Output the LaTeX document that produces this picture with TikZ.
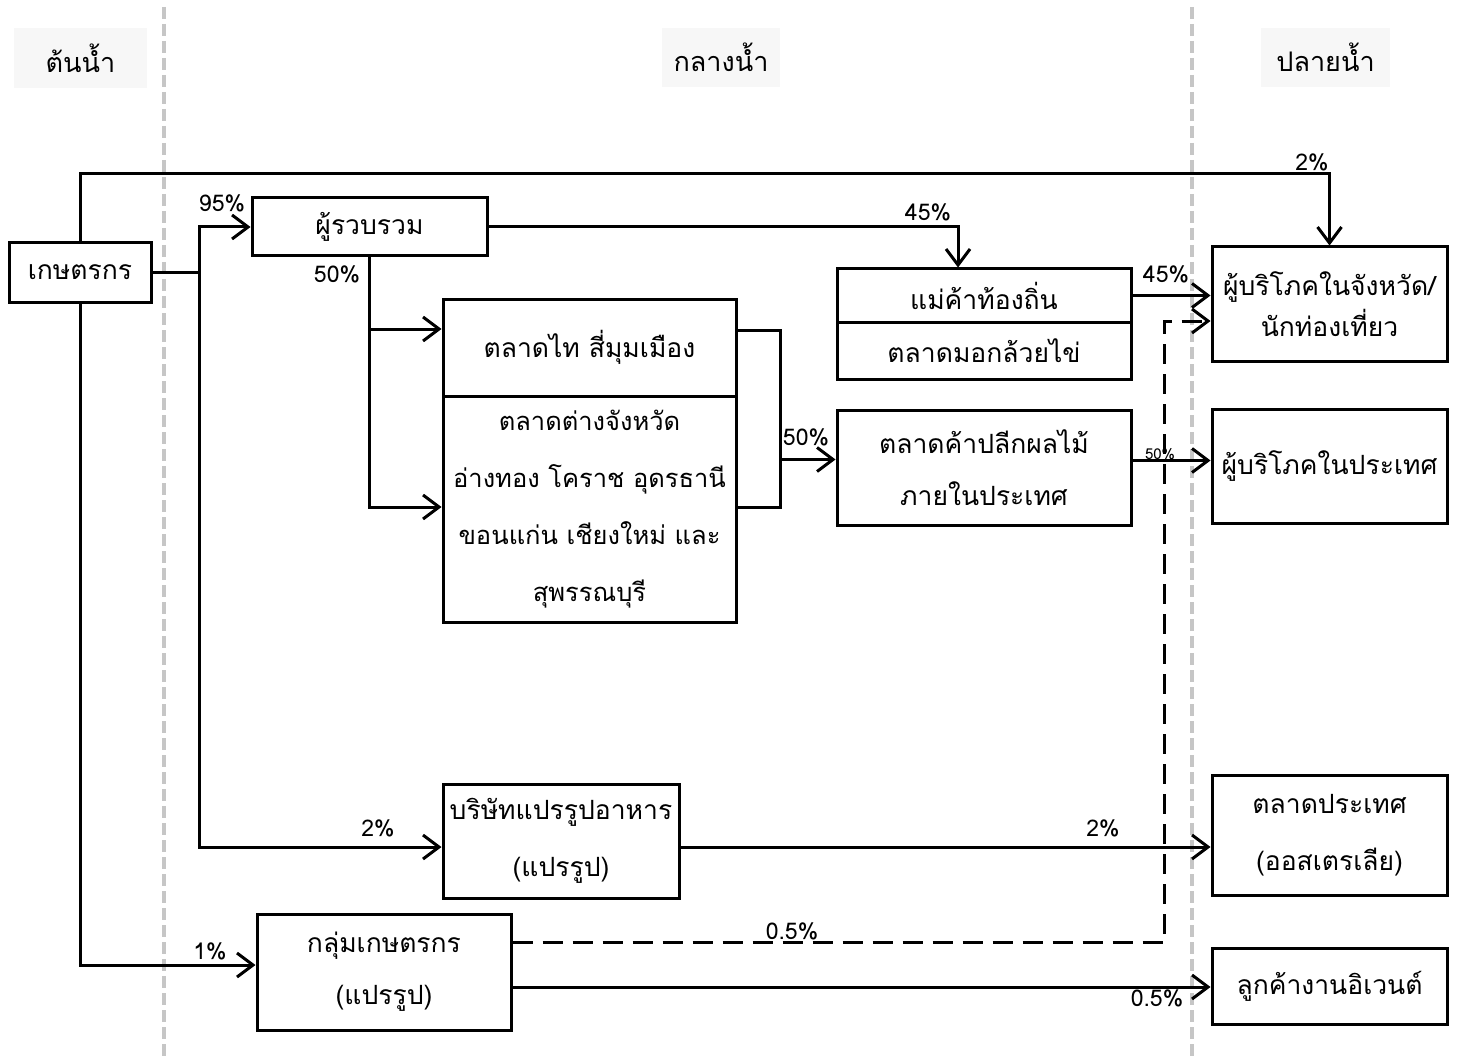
\documentclass[tikz,border=0pt]{standalone}
\usepackage{fontspec}
\setmainfont[Script=Thai]{Loma}
\usetikzlibrary{arrows.meta,calc}
\begin{document}
\begin{tikzpicture}[x=1pt,y=-1pt,
  box/.style={draw=black,line width=3pt,rectangle,inner sep=0pt,align=center,
    font=\fontsize{26.5}{52}\selectfont},
  wide/.style={font=\fontsize{26.5}{57}\selectfont},
  provf/.style={font=\fontsize{25.5}{57}\selectfont},
  tight/.style={font=\fontsize{26.5}{41}\selectfont},
  hdr/.style={rectangle,fill=gray!6,inner sep=0pt,font=\fontsize{27}{34}\selectfont},
  line/.style={draw=black,line width=3pt},
  arr/.style={line,-{Straight Barb[length=16pt,width=24pt,line width=3pt]}},
  dsh/.style={arr,dash pattern=on 20pt off 10pt},
  pct/.style={font=\fontsize{23}{28}\selectfont,inner sep=0pt},
  pctsmall/.style={font=\fontsize{15}{20}\selectfont,inner sep=0pt},
  zone/.style={draw=gray!45,line width=3.5pt,dash pattern=on 12pt off 5pt}
]
\useasboundingbox (0,0) rectangle (1461,1059);
% zone separators
\draw[zone] (164,7) -- (164,1059);
\draw[zone] (1192,7) -- (1192,1059);
% headers
\node[hdr,minimum width=133pt,minimum height=60pt] (h1) at (80.5,58) {ต้นน้ำ};
\node[hdr,minimum width=118pt,minimum height=59pt] (h2) at (721,57.5) {กลางน้ำ};
\node[hdr,minimum width=129pt,minimum height=59pt] (h3) at (1325.5,57.5) {ปลายน้ำ};
% boxes
\node[box,minimum width=142pt,minimum height=59pt] (farmer) at (80,272.5) {เกษตรกร};
\node[box,minimum width=235pt,minimum height=58pt] (collector) at (369.5,227) {ผู้รวบรวม};
\node[box,minimum width=293pt,minimum height=97pt] (thai) at (589.5,347.5) {ตลาดไท สี่มุมเมือง};
\node[box,provf,minimum width=293pt,minimum height=226pt] (prov) at (589.5,509) {ตลาดต่างจังหวัด\\อ่างทอง โคราช อุดรธานี\\ขอนแก่น เชียงใหม่ และ\\สุพรรณบุรี};
\node[box,minimum width=294pt,minimum height=53pt] (maekha) at (984,295.5) {แม่ค้าท้องถิ่น};
\node[box,minimum width=294pt,minimum height=57pt] (mok) at (984,350.5) {ตลาดมอกล้วยไข่};
\node[box,minimum width=294pt,minimum height=115pt] (retail) at (984,467.5) {ตลาดค้าปลีกผลไม้\\ภายในประเทศ};
\node[box,tight,minimum width=235pt,minimum height=114pt] (cons1) at (1329.5,304) {ผู้บริโภคในจังหวัด/\\นักท่องเที่ยว};
\node[box,minimum width=235pt,minimum height=114pt] (cons2) at (1329.5,466) {ผู้บริโภคในประเทศ};
\node[box,wide,minimum width=236pt,minimum height=114pt] (company) at (561,841) {บริษัทแปรรูปอาหาร\\(แปรรูป)};
\node[box,wide,minimum width=235pt,minimum height=120pt] (export) at (1329.5,835) {ตลาดประเทศ\\(ออสเตรเลีย)};
\node[box,minimum width=254pt,minimum height=116pt] (group) at (384,972) {กลุ่มเกษตรกร\\(แปรรูป)};
\node[box,minimum width=235pt,minimum height=76pt] (event) at (1329.5,986) {ลูกค้างานอิเวนต์};
% helper coordinates
\coordinate (top) at (700,174);
\coordinate (jA) at (199,272.5);
\coordinate (br) at (780,420);
\coordinate (thaiIn) at ([yshift=18.5pt]thai.west);
\coordinate (provIn) at ([yshift=2pt]prov.west);
\coordinate (thaiOut) at ([yshift=17.5pt]thai.east);
\coordinate (provOut) at ([yshift=2pt]prov.east);
\coordinate (retailIn) at ([yshift=8pt]retail.west);
\coordinate (retailOut) at ([yshift=7pt]retail.east);
\coordinate (compIn) at ([yshift=-6pt]company.west);
\coordinate (groupIn) at ([yshift=7pt]group.west);
\coordinate (groupD) at ([yshift=30pt]group.east);
\coordinate (groupS) at ([yshift=-15pt]group.east);
\coordinate (dcorner) at (1164,600);
\coordinate (cons1D) at ([yshift=-17pt]cons1.west);
\coordinate (maeIn) at ([xshift=-26pt]maekha.north);
% connectors
\draw[arr] (farmer.north) |- (top) -| (cons1.north);
\draw[line] (farmer.east) -- (jA);
\draw[arr] (jA) |- (collector.west);
\draw[arr] (jA) |- (compIn);
\draw[arr] (collector.east) -| (maeIn);
\draw[arr] (collector.south) |- (provIn);
\draw[arr] (collector.south |- thaiIn) -- (thaiIn);
\draw[line] (thaiOut) -| (br) |- (provOut);
\draw[arr] (br |- retailIn) -- (retailIn);
\draw[arr] (maekha.east) -- (maekha.east -| cons1.west);
\draw[arr] (retailOut) -- (retailOut -| cons2.west);
\draw[arr] (compIn -| company.east) -- (compIn -| export.west);
\draw[arr] (farmer.south) |- (groupIn);
\draw[dsh] (groupD) -| (dcorner) |- (cons1D);
\draw[arr] (groupS) -- (groupS -| event.west);
% labels
\node[pct] (l1) at (1312,162) {2\%};
\node[pct] (l2) at (222,203) {95\%};
\node[pct] (l3) at (928,212) {45\%};
\node[pct] (l4) at (337,274) {50\%};
\node[pct] (l5) at (806,437) {50\%};
\node[pct] (l6) at (1166,274) {45\%};
\node[pctsmall] (l7) at (1160,454) {50\%};
\node[pct] (l8) at (378,828) {2\%};
\node[pct] (l9) at (1103,828) {2\%};
\node[pct] (l10) at (210,951) {1\%};
\node[pct] (l11) at (792,931) {0.5\%};
\node[pct] (l12) at (1157,998) {0.5\%};
\end{tikzpicture}
\end{document}
